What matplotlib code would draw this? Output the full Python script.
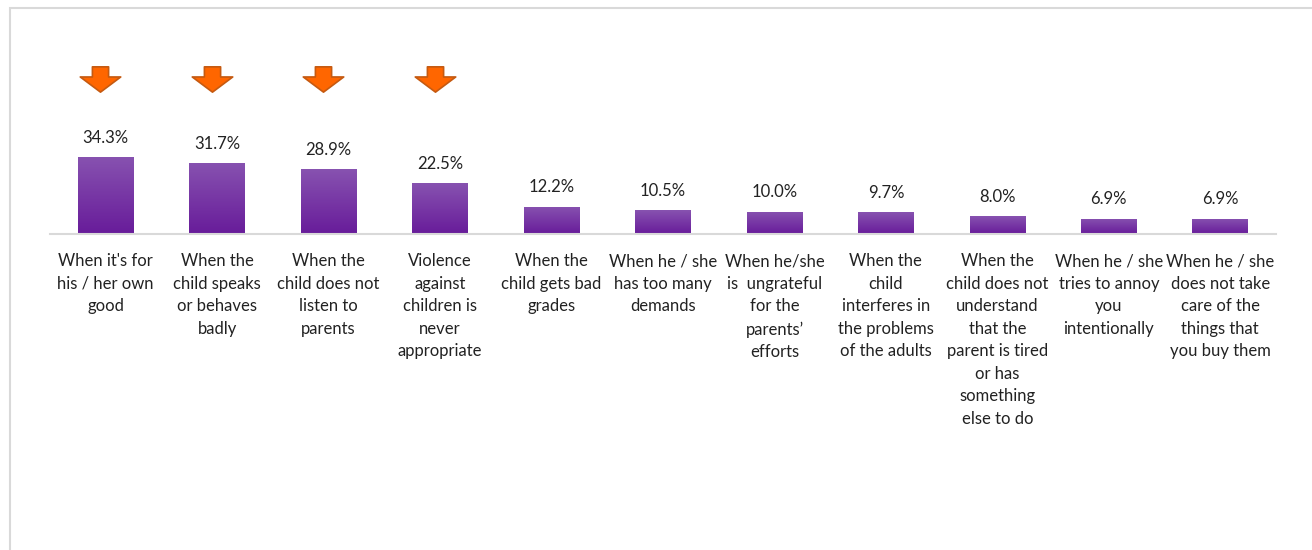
import numpy as np
import matplotlib.pyplot as plt
from matplotlib.patches import Rectangle
from matplotlib.path import Path

# data
categories = [
    "When it's for\nhis / her own\ngood",
    "When the\nchild speaks\nor behaves\nbadly",
    "When the\nchild does not\nlisten to\nparents",
    "Violence\nagainst\nchildren is\nnever\nappropriate",
    "When the\nchild gets bad\ngrades",
    "When he / she\nhas too many\ndemands",
    "When he/she\nis  ungrateful\nfor the\nparents\u2019\nefforts",
    "When the\nchild\ninterferes in\nthe problems\nof the adults",
    "When the\nchild does not\nunderstand\nthat the\nparent is tired\nor has\nsomething\nelse to do",
    "When he / she\ntries to annoy\nyou\nintentionally",
    "When he / she\ndoes not take\ncare of the\nthings that\nyou buy them",
]
values = [34.3, 31.7, 28.9, 22.5, 12.2, 10.5, 10.0, 9.7, 8.0, 6.9, 6.9]
highlighted = [0, 1, 2, 3]

plt.rcParams['font.family'] = ['Lato', 'DejaVu Sans']

W, H = 1312, 550
fig = plt.figure(figsize=(W / 100, H / 100), dpi=100)
fig.patch.set_facecolor('white')

# outer frame
fig.patches.append(Rectangle((10 / W, -0.1), 1.0, 0.1 + 542 / H, transform=fig.transFigure,
                             fill=False, edgecolor='#D9D9D9', linewidth=1.5))

ax_bottom = (H - 234) / H
ax_top = (H - 20) / H
ax = fig.add_axes([50 / W, ax_bottom, 1226 / W, ax_top - ax_bottom])
ax.set_xlim(-0.5, len(values) - 0.5)
ax.set_ylim(0, 214 / 2.245)

x = np.arange(len(values))
bars = ax.bar(x, values, width=0.5, color='#7030A0', linewidth=0, zorder=2)

# vertical gradient inside each bar
top_c = np.array([0x87, 0x52, 0xB0]) / 255
bot_c = np.array([0x68, 0x1C, 0x9A]) / 255
t = np.linspace(0, 1, 64)[:, None]
grad = (bot_c * (1 - t) + top_c * t)[:, None, :]
for b in bars:
    b.set_facecolor('none')
    x0, w, h = b.get_x(), b.get_width(), b.get_height()
    im = ax.imshow(grad, extent=[x0, x0 + w, 0, h], origin='lower', aspect='auto', zorder=2)
    im.set_clip_path(b)

for xi, v in zip(x, values):
    ax.annotate(f"{v:.1f}%", (xi, v), xytext=(0, 8), textcoords='offset points',
                ha='center', va='bottom', fontsize=12, color='#222222')

# down arrows over highlighted bars
arrow = Path([(-0.4, 0.625), (0.4, 0.625), (0.4, 0.125), (1.0, 0.125), (0.0, -0.625),
              (-1.0, 0.125), (-0.4, 0.125), (-0.4, 0.625)], closed=True)
ax.scatter(np.array(highlighted) - 0.05, [69.0] * len(highlighted), marker=arrow, s=850,
           c='#FF6600', edgecolors='#C55A11', linewidths=1.2, zorder=3, clip_on=False)

ax.set_xticks(x)
ax.set_xticklabels(categories, fontsize=12, linespacing=1.5, color='#222222')
ax.tick_params(axis='x', length=0, pad=14)
ax.set_yticks([])
for s in ['top', 'right', 'left']:
    ax.spines[s].set_visible(False)
ax.spines['bottom'].set_color('#D9D9D9')
ax.spines['bottom'].set_linewidth(1.5)
ax.patch.set_alpha(0)

fig.savefig('out.png', dpi=100)
